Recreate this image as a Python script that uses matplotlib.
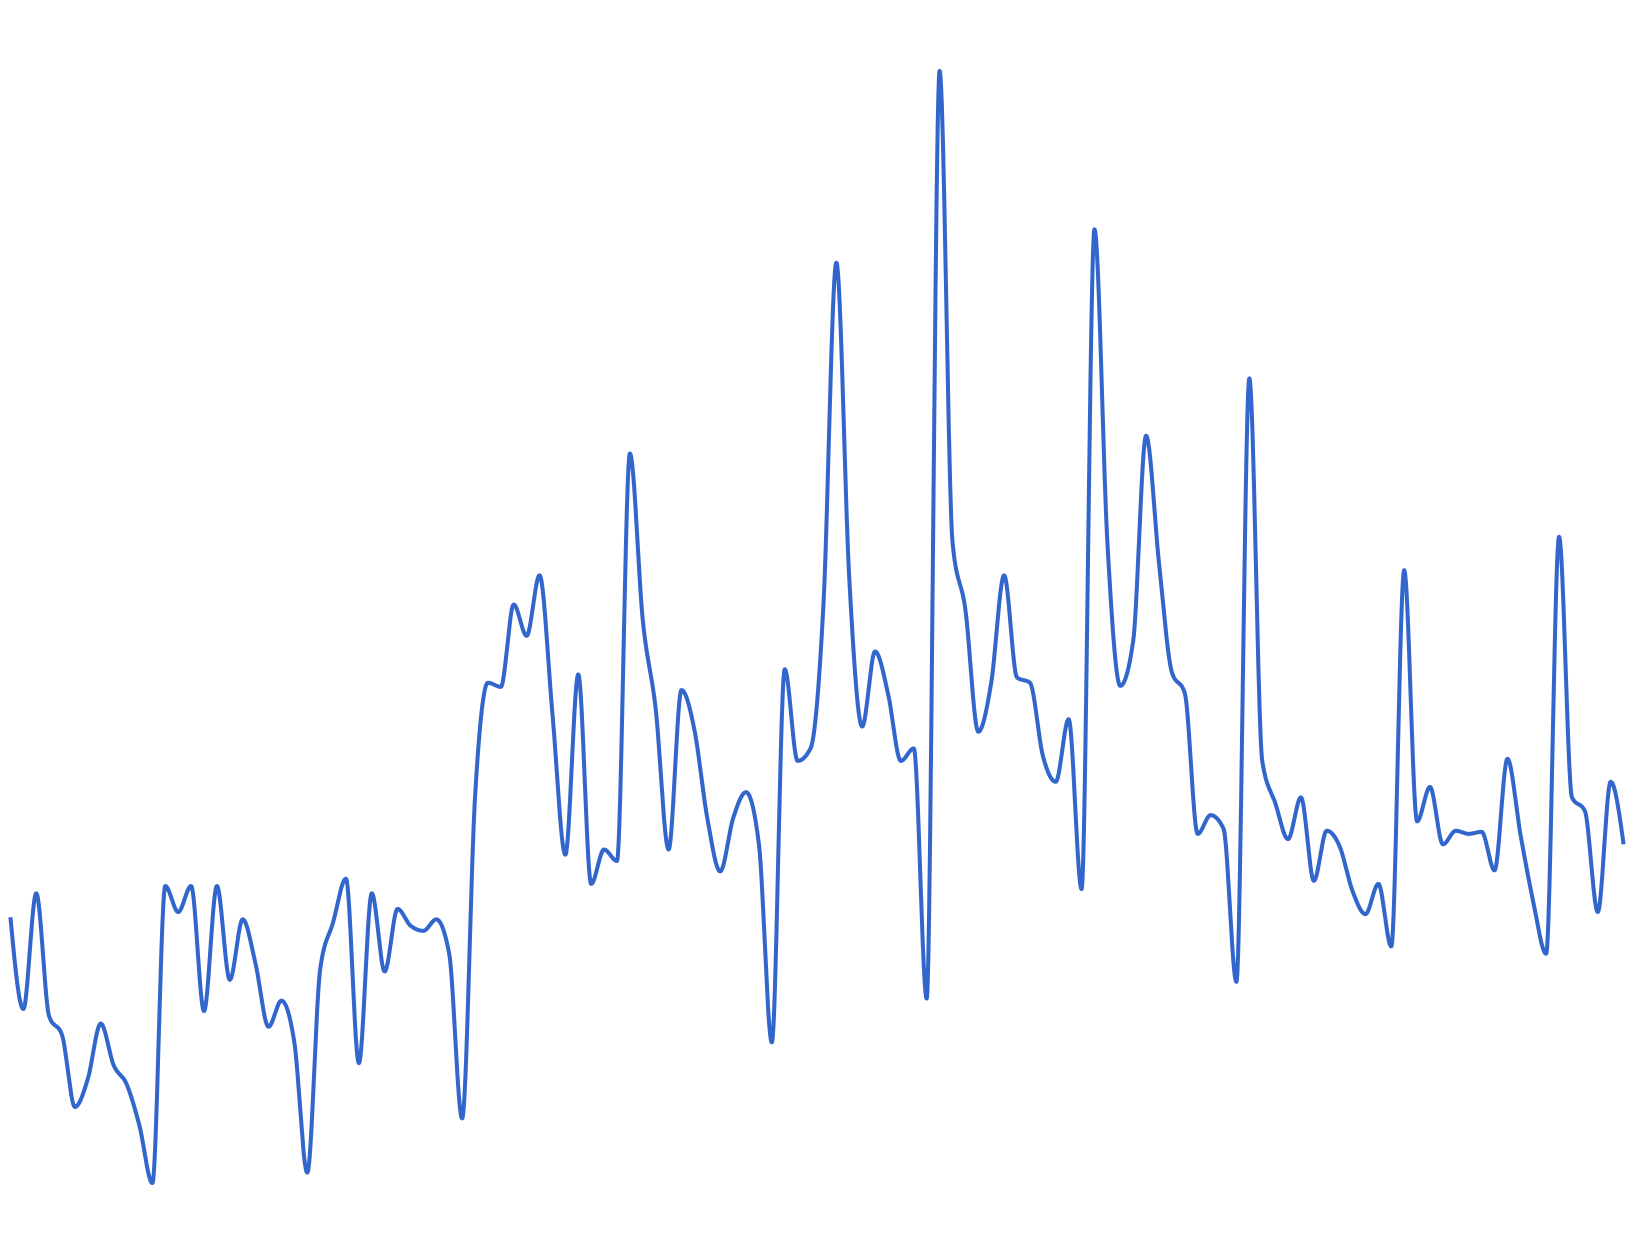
import numpy as np
import matplotlib
matplotlib.use("Agg")
import matplotlib.pyplot as plt

# Series values (arbitrary units, one per evenly spaced step)
values = [324, 236, 347, 229, 211, 142, 169, 222, 182, 164,
          124, 69, 354, 329, 354, 234, 354, 264, 322, 279,
          219, 244, 204, 79, 274, 319, 361, 184, 347, 272,
          332, 316, 311, 322, 289, 131, 439, 549, 545, 624,
          594, 652, 519, 384, 557, 356, 389, 378, 769, 609,
          524, 389, 542, 504, 419, 368, 419, 444, 394, 204,
          562, 474, 486, 624, 952, 649, 507, 579, 539, 474,
          486, 246, 1136, 684, 619, 502, 549, 652, 554, 549,
          479, 454, 514, 351, 984, 684, 546, 589, 786, 664,
          559, 539, 404, 422, 409, 262, 841, 474, 434, 399,
          439, 359, 407, 392, 349, 327, 356, 296, 657, 416,
          449, 394, 407, 404, 406, 369, 476, 404, 339, 289,
          689, 439, 426, 329, 454, 394]
steps = list(range(len(values)))


def monotone_x(xs, ys, n=40):
    """d3 curveMonotoneX sampled as cubic Bezier segments."""
    xs = np.asarray(xs, float)
    ys = np.asarray(ys, float)
    m = len(xs)
    h = np.diff(xs)
    s = np.diff(ys) / h
    t = np.zeros(m)
    sign = lambda v: -1.0 if v < 0 else 1.0
    for i in range(1, m - 1):
        s0, s1 = s[i - 1], s[i]
        h0, h1 = h[i - 1], h[i]
        p = (s0 * h1 + s1 * h0) / (h0 + h1)
        t[i] = (sign(s0) + sign(s1)) * min(abs(s0), abs(s1), 0.5 * abs(p))
    t[0] = (3 * s[0] - t[1]) / 2
    t[-1] = (3 * s[-1] - t[-2]) / 2
    px, py = [], []
    u = np.linspace(0, 1, n)
    for i in range(m - 1):
        dx = h[i] / 3
        P0 = np.array([xs[i], ys[i]])
        P1 = np.array([xs[i] + dx, ys[i] + dx * t[i]])
        P2 = np.array([xs[i + 1] - dx, ys[i + 1] - dx * t[i + 1]])
        P3 = np.array([xs[i + 1], ys[i + 1]])
        uu = u if i == 0 else u[1:]
        b = ((1 - uu) ** 3)[:, None] * P0 + (3 * (1 - uu) ** 2 * uu)[:, None] * P1 \
            + (3 * (1 - uu) * uu ** 2)[:, None] * P2 + (uu ** 3)[:, None] * P3
        px.extend(b[:, 0])
        py.extend(b[:, 1])
    return np.array(px), np.array(py)


fig = plt.figure(figsize=(16.34, 12.55), dpi=100)
ax = fig.add_axes([0, 0, 1, 1])
cx, cy = monotone_x(steps, values)
ax.plot(cx, cy, color="#3366cc", linewidth=2.9, solid_capstyle="butt",
        solid_joinstyle="round")
pad = 10 / 12.384
ax.set_xlim(-pad, len(values) - 1 + pad)
ax.set_ylim(0, 1204)
ax.axis("off")
fig.savefig("out.png", dpi=100, facecolor="white")
